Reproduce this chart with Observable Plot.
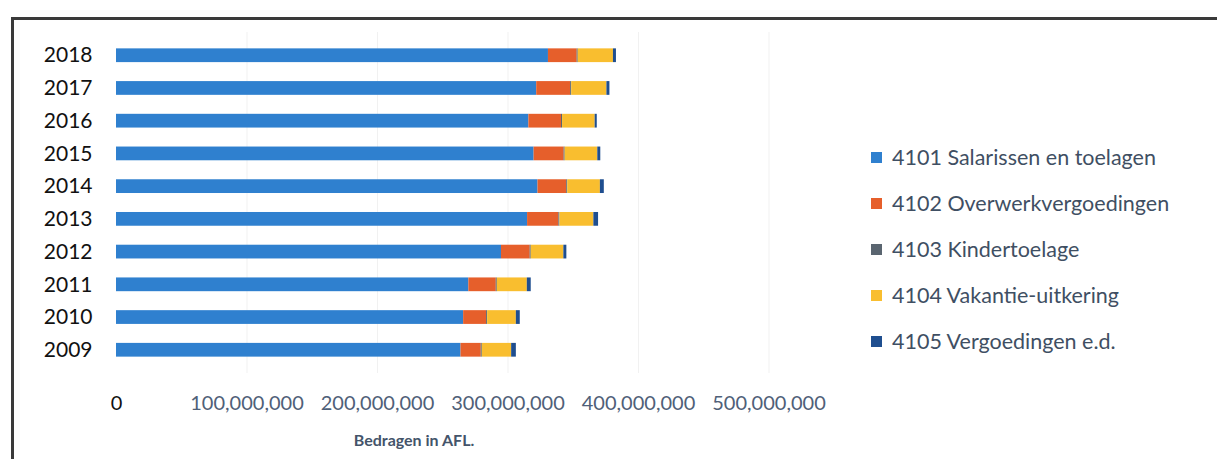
<!DOCTYPE html>
<html>
<head>
<meta charset="utf-8">
<script src="https://cdn.jsdelivr.net/npm/d3@7"></script>
<script src="https://cdn.jsdelivr.net/npm/@observablehq/plot@0.6"></script>
<style>
  html, body { margin: 0; padding: 0; background: #fff; }
  #wrap { position: relative; width: 1217px; height: 459px; overflow: hidden; font-family: Lato, "Open Sans", sans-serif; }
  #frameTop { position: absolute; left: 11px; top: 17px; right: 0; height: 3px; background: #3a3a3a; }
  #frameLeft { position: absolute; left: 11px; top: 17px; width: 3px; bottom: 0; background: #3a3a3a; }
  #legend { position: absolute; left: 871px; top: 134px; }
  .li { display: flex; align-items: center; height: 46px; font-size: 21.5px; color: #3f4f63; white-space: nowrap; }
  .sw { width: 11px; height: 11px; margin-right: 10px; }
  #xtitle { position: absolute; left: 334px; top: 430px; width: 160px; text-align: center; font-size: 16px; font-weight: bold; color: #44546a; }
  #chart { position: absolute; left: 0; top: 0; }
</style>
</head>
<body>
<div id="wrap">
  <div id="chart"></div>
  <div id="frameTop"></div>
  <div id="frameLeft"></div>
  <div id="legend"></div>
  <div id="xtitle">Bedragen in AFL.</div>
</div>
<script>
const years = [2018, 2017, 2016, 2015, 2014, 2013, 2012, 2011, 2010, 2009];
const categories = [
  "4101 Salarissen en toelagen",
  "4102 Overwerkvergoedingen",
  "4103 Kindertoelage",
  "4104 Vakantie-uitkering",
  "4105 Vergoedingen e.d."
];
const colors = ["#2f80cf", "#e65f2b", "#5a6570", "#f9be2f", "#1f4e8f"];
// values in AFL, per year (same order as years)
const salarissen       = [331e6, 322e6, 316e6, 320e6, 323e6, 315e6, 295e6, 270e6, 266e6, 264e6];
const overwerk         = [22e6, 26e6, 25e6, 23e6, 22e6, 24e6, 22e6, 21e6, 17.6e6, 15.5e6];
const kindertoelage    = [0.8e6, 0.8e6, 0.8e6, 0.8e6, 0.8e6, 0.8e6, 0.8e6, 0.8e6, 0.8e6, 0.8e6];
const vakantie         = [27e6, 27e6, 25e6, 25e6, 25e6, 26e6, 25e6, 23e6, 22e6, 22.5e6];
const vergoedingen     = [2.3e6, 2.3e6, 1.6e6, 2.3e6, 3e6, 3.6e6, 2.3e6, 3e6, 3e6, 3.6e6];
const xTicks = [0, 100e6, 200e6, 300e6, 400e6, 500e6];

const series = [salarissen, overwerk, kindertoelage, vakantie, vergoedingen];
const data = [];
categories.forEach((c, ci) => {
  years.forEach((y, yi) => data.push({year: String(y), cat: c, value: series[ci][yi]}));
});

const chart = Plot.plot({
  width: 1217,
  height: 459,
  marginLeft: 116,
  marginRight: 448.5,
  marginTop: 32,
  marginBottom: 86,
  style: {fontFamily: "Lato, 'Open Sans', sans-serif", background: "transparent"},
  x: {domain: [0, 500e6]},
  y: {domain: years.map(String), paddingInner: 0.58, paddingOuter: 0.5, round: false},
  color: {domain: categories, range: colors},
  marks: [
    Plot.ruleX(xTicks.slice(1), {stroke: "#f1f1f1", strokeWidth: 1}),
    Plot.barX(data, {x: "value", y: "year", fill: "cat", order: categories}),
    Plot.axisY({tickSize: 0, tickPadding: 24, fontSize: 21, fill: "#111", label: null}),
    Plot.axisX({ticks: xTicks, tickSize: 0, tickPadding: 22, fontSize: 20,
      tickFormat: d3.format(","), label: null,
      fill: d => d === 0 ? "#111" : "#4f6078"})
  ]
});
document.getElementById("chart").appendChild(chart);

const legend = document.getElementById("legend");
categories.forEach((c, i) => {
  const row = document.createElement("div");
  row.className = "li";
  const sw = document.createElement("span");
  sw.className = "sw";
  sw.style.background = colors[i];
  const t = document.createElement("span");
  t.textContent = c;
  row.appendChild(sw);
  row.appendChild(t);
  legend.appendChild(row);
});
</script>
</body>
</html>
